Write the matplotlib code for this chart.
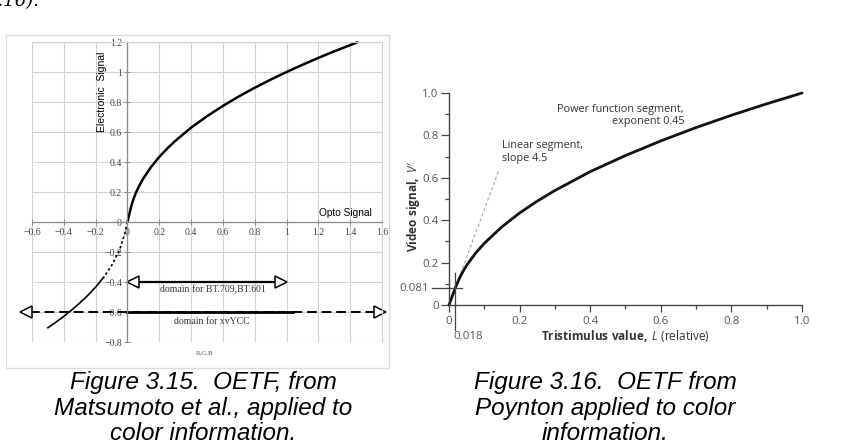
import numpy as np
import matplotlib
matplotlib.use("Agg")
import matplotlib.pyplot as plt
from matplotlib import font_manager as fm
from matplotlib.patches import Rectangle

# ---------------- data ----------------
# Left chart (Matsumoto et al.): positive branch
opto_pos = [0, 0.005, 0.01, 0.018, 0.03, 0.04, 0.05, 0.075, 0.1, 0.15, 0.2, 0.25, 0.3,
            0.4, 0.5, 0.6, 0.7, 0.8, 0.9, 1.0, 1.1, 1.2, 1.3, 1.45]
elec_pos = [0, 0.023, 0.045, 0.081, 0.128, 0.159, 0.187, 0.244, 0.291, 0.369, 0.434, 0.490, 0.540,
            0.629, 0.705, 0.774, 0.837, 0.895, 0.949, 1.000, 1.048, 1.094, 1.138, 1.200]
# negative branch, dotted part
opto_neg_dot = [0, -0.018, -0.05, -0.1, -0.15]
elec_neg_dot = [0, -0.081, -0.187, -0.291, -0.369]
# negative branch, solid part
opto_neg = [-0.15, -0.2, -0.25, -0.3, -0.35, -0.4, -0.45, -0.5]
elec_neg = [-0.369, -0.434, -0.490, -0.540, -0.586, -0.629, -0.668, -0.705]
left_xticks = [-0.6, -0.4, -0.2, 0, 0.2, 0.4, 0.6, 0.8, 1.0, 1.2, 1.4, 1.6]
left_xlabels = ["\u22120.6", "\u22120.4", "\u22120.2", "0", "0.2", "0.4", "0.6", "0.8", "1", "1.2", "1.4", "1.6"]
left_yticks = [-0.8, -0.6, -0.4, -0.2, 0, 0.2, 0.4, 0.6, 0.8, 1.0, 1.2]
left_ylabels = ["\u22120.8", "\u22120.6", "\u22120.4", "\u22120.2", "0", "0.2", "0.4", "0.6", "0.8", "1", "1.2"]
bt709_domain = [0.0, 1.0]
xvycc_domain = [-0.672, 1.62]
xvycc_solid = [0.0, 1.04]

# Right chart (Poynton)
tristim = [0, 0.018, 0.03, 0.04, 0.05, 0.075, 0.1, 0.15, 0.2, 0.25, 0.3, 0.4, 0.5, 0.6,
           0.7, 0.8, 0.9, 1.0]
video = [0, 0.081, 0.128, 0.159, 0.187, 0.244, 0.291, 0.369, 0.434, 0.490, 0.540, 0.629, 0.705, 0.774,
         0.837, 0.895, 0.949, 1.0]
lin_L = [0, 0.142]
lin_V = [0, 0.639]
right_ticks = [0, 0.2, 0.4, 0.6, 0.8, 1.0]
right_xlabels = ["0", "0.2", "0.4", "0.6", "0.8", "1.0"]
right_ylabels = ["0", "0.2", "0.4", "0.6", "0.8", "1.0"]
right_minor = [0.1, 0.3, 0.5, 0.7, 0.9]
knee_L = 0.018
knee_V = 0.081

# ---------------- fonts ----------------
names = {f.name for f in fm.fontManager.ttflist}
cap_font = "Liberation Sans Narrow" if "Liberation Sans Narrow" in names else "Liberation Sans"
cap_size = 19 if cap_font == "Liberation Sans Narrow" else 17.5
plt.rcParams["font.family"] = ["Open Sans", "DejaVu Sans"]
plt.rcParams["mathtext.fontset"] = "custom"
plt.rcParams["mathtext.rm"] = "Open Sans"
plt.rcParams["mathtext.it"] = "Open Sans:italic"
plt.rcParams["mathtext.bf"] = "Open Sans:bold"

W, H = 848, 446
fig = plt.figure(figsize=(W / 100, H / 100), dpi=100)
fig.patch.set_facecolor("white")

def fx(px):
    return px / W

def fy(py):
    return 1 - py / H

# outer frame of left figure
fig.add_artist(Rectangle((fx(6), fy(368)), fx(389) - fx(6), (368 - 35) / H,
                         transform=fig.transFigure, fill=False, ec="#dcdcdc", lw=1))

# ---------------- left chart ----------------
axL = fig.add_axes([fx(32), fy(342), 350 / W, 300 / H])
axL.set_xlim(-0.6, 1.6)
axL.set_ylim(-0.8, 1.2)
axL.set_facecolor("white")
axL.set_xticks(left_xticks, left_xlabels)
axL.set_yticks(left_yticks, left_ylabels)
axL.grid(True, color="#d2d2d2", lw=0.8)
axL.set_axisbelow(True)
axL.spines["left"].set_position(("data", 0))
axL.spines["bottom"].set_position(("data", 0))
for s in ("left", "bottom"):
    axL.spines[s].set_color("#8a8a8a")
    axL.spines[s].set_linewidth(0.9)
for s in ("top", "right"):
    axL.spines[s].set_color("#d2d2d2")
    axL.spines[s].set_linewidth(0.8)
axL.tick_params(direction="inout", length=4, width=0.7, color="#8a8a8a",
                labelsize=7, labelcolor="#444444", pad=2)
for lbl in axL.get_xticklabels() + axL.get_yticklabels():
    lbl.set_fontfamily("Liberation Serif")

axL.plot(opto_pos, elec_pos, color="black", lw=1.8, solid_capstyle="butt", clip_on=False)
axL.plot(opto_neg_dot, elec_neg_dot, color="black", lw=1.2, ls=(0, (1.5, 1.5)))
axL.plot(opto_neg, elec_neg, color="black", lw=1.2)

# BT.709 domain arrow
yb = -0.4
axL.plot([bt709_domain[0] + 0.06, bt709_domain[1] - 0.06], [yb, yb], color="black", lw=1.6)
axL.plot([bt709_domain[0] + 0.035], [yb], marker="<", ms=8, mfc="white", mec="black", mew=1.1, clip_on=False)
axL.plot([bt709_domain[1] - 0.035], [yb], marker=">", ms=8, mfc="white", mec="black", mew=1.1, clip_on=False)
axL.text(0.54, -0.45, "domain for BT.709,BT.601", family="Liberation Serif", size=7,
         color="#333333", ha="center", va="center")

# xvYCC domain arrow
yx = -0.6
axL.plot([xvycc_domain[0] + 0.06, xvycc_domain[1] - 0.06], [yx, yx], color="black", lw=1.4,
         ls=(0, (5, 2.5)), clip_on=False)
axL.plot(xvycc_solid, [yx, yx], color="black", lw=2.0)
axL.plot([xvycc_domain[0] + 0.035], [yx], marker="<", ms=8, mfc="white", mec="black", mew=1.1, clip_on=False)
axL.plot([xvycc_domain[1] - 0.035], [yx], marker=">", ms=8, mfc="white", mec="black", mew=1.1, clip_on=False)
axL.text(0.53, -0.665, "domain for xvYCC", family="Liberation Serif", size=7,
         color="#333333", ha="center", va="center")

fig.text(fx(102), fy(92), "Electronic  Signal", rotation=90, ha="center", va="center",
         family="Liberation Sans", size=7.5, color="black")
fig.text(fx(345), fy(213), "Opto Signal", ha="center", va="center",
         family="Liberation Sans", size=7.3, color="black")
fig.text(fx(205), fy(353), "R,G,B", ha="center", va="center",
         family="Liberation Serif", size=5, color="#555555")

# partial text at the very top
fig.text(fx(40), fy(6), "3.16).", ha="right", va="baseline", family="DejaVu Serif",
         style="italic", size=13, color="black")

# ---------------- right chart ----------------
axR = fig.add_axes([fx(449), fy(305), 353 / W, 212 / H])
axR.set_xlim(0, 1.0)
axR.set_ylim(0, 1.0)
axR.set_facecolor("none")
for s in ("top", "right"):
    axR.spines[s].set_visible(False)
for s in ("left", "bottom"):
    axR.spines[s].set_color("#444444")
    axR.spines[s].set_linewidth(1.0)
axR.set_xticks(right_ticks, right_xlabels)
axR.set_yticks(right_ticks, right_ylabels)
axR.set_xticks(right_minor, minor=True)
axR.set_yticks(right_minor, minor=True)
axR.tick_params(which="major", direction="out", length=6, width=0.9, color="#444444",
                labelsize=8.2, labelcolor="#555555", pad=1.5)
axR.tick_params(which="minor", direction="out", length=3, width=0.9, color="#444444")
axR.tick_params(axis="x", which="major", length=5, pad=3)

axR.plot(lin_L, lin_V, color="#a8a8a8", lw=0.8, ls=(0, (3, 2)), clip_on=False)
axR.plot(tristim, video, color="#111111", lw=2.0, clip_on=False, solid_capstyle="round")

# knee marks
axR.plot([-0.048, 0.037], [knee_V, knee_V], color="#444444", lw=0.9, clip_on=False)
axR.plot([knee_L, knee_L], [0.152, -0.118], color="#444444", lw=0.9, clip_on=False)
axR.text(-0.057, knee_V - 0.005, "0.081", ha="right", va="center", size=8.2, color="#555555")
axR.text(0.012, -0.15, "0.018", ha="left", va="center", size=8.2, color="#555555")

axR.text(0.666, 0.895, "Power function segment,\nexponent 0.45", ha="right", va="center",
         multialignment="right", size=7.8, color="#333333", linespacing=1.15)
axR.text(0.150, 0.722, "Linear segment,\nslope 4.5", ha="left", va="center",
         multialignment="left", size=7.8, color="#333333", linespacing=1.15)

fig.text(fx(625), fy(336), r"$\mathbf{Tristimulus\ value,}\ \mathit{L}$ (relative)",
         ha="center", va="center", size=8.5, color="#333333")
fig.text(fx(413), fy(206), r"$\mathbf{Video\ signal,}\ \mathit{V}$" + "\u2032", rotation=90,
         ha="center", va="center", size=8.5, color="#333333")

# ---------------- captions ----------------
cap_left = ["Figure 3.15.  OETF, from", "Matsumoto et al., applied to", "color information."]
cap_right = ["Figure 3.16.  OETF from", "Poynton applied to color", "information."]
for i, (a, b) in enumerate(zip(cap_left, cap_right)):
    yy = fy(382 + 26 * i)
    fig.text(fx(203), yy, a, ha="center", va="center", family=cap_font, style="italic",
             size=cap_size, color="black")
    fig.text(fx(605), yy, b, ha="center", va="center", family=cap_font, style="italic",
             size=cap_size, color="black")

fig.savefig("out.png", dpi=100, facecolor="white")
